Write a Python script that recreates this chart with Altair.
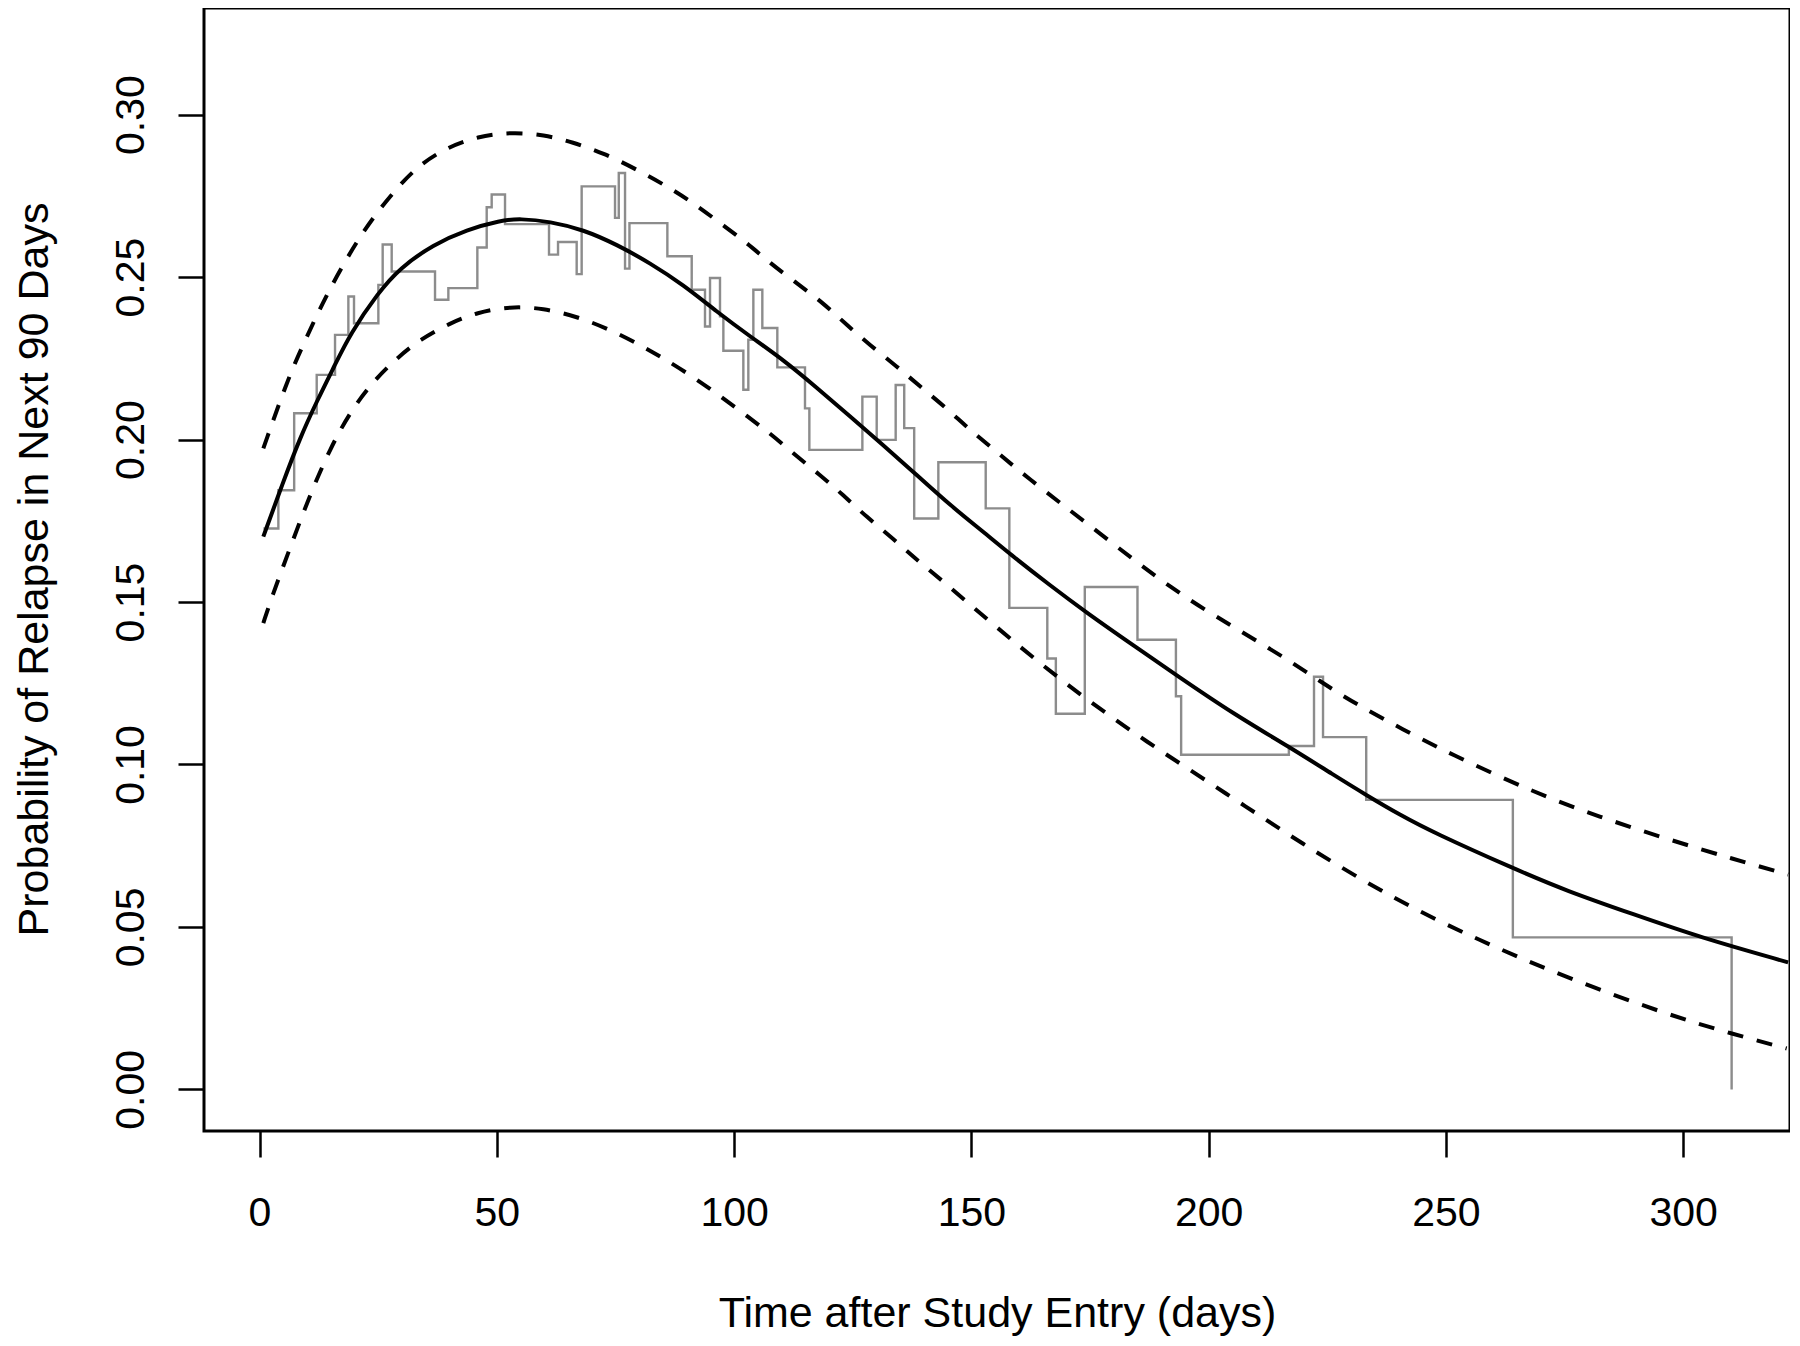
import altair as alt
import pandas as pd

# ---- data ----
step_days = [0.81, 3.97, 7.3, 12.05, 15.91, 18.72, 19.91, 25.04, 25.95, 27.85, 36.98, 39.79,
             45.90, 47.87, 48.92, 51.73, 61.0, 62.9, 66.83, 67.88, 74.91, 75.7, 77.02, 77.95,
             85.94, 91.07, 93.87, 94.93, 97.03, 97.74, 101.95, 103.0, 104.06, 105.95, 109.11,
             114.94, 115.86, 127.03, 130.05, 134.05, 135.85, 137.95, 143.04, 153.02, 158.0,
             166.0, 167.8, 173.9, 185.0, 193.1, 194.2, 216.9, 222.2, 224.1, 233.2, 264.1, 310.2]
step_probs = [0.1726, 0.1844, 0.2081, 0.2199, 0.2322, 0.2440, 0.2358, 0.2476, 0.2600, 0.2517,
              0.2430, 0.2466, 0.2591, 0.2715, 0.2754, 0.2663, 0.2569, 0.2608, 0.2509, 0.2779,
              0.2682, 0.2820, 0.2526, 0.2666, 0.2564, 0.2461, 0.2348, 0.2497, 0.2379, 0.2273,
              0.2153, 0.2307, 0.2461, 0.2343, 0.2222, 0.2096, 0.1968, 0.2132, 0.1999, 0.2168,
              0.2035, 0.1757, 0.1930, 0.1788, 0.1482, 0.1326, 0.1156, 0.1546, 0.1384, 0.1210,
              0.1030, 0.1057, 0.1270, 0.1084, 0.0891, 0.0468, 0.0]

fit_days = [0.8, 5.0, 8.5, 12.05, 15.9, 19.1, 25.0, 29.6, 36.6, 43.7, 50.7, 54.9, 61.2, 68.2,
            75.3, 82.3, 89.3, 96.3, 103.4, 110.4, 117.4, 124.4, 131.4, 138.5, 145.5, 152.5,
            158.1, 166.5, 174.3, 184.1, 193.3, 205.2, 217.1, 226.3, 233.3, 240.3, 247.3, 264.2,
            275.4, 289.5, 303.5, 322.1]
fit_probs = [0.1701, 0.1870, 0.2004, 0.2117, 0.2230, 0.2325, 0.2452, 0.2528, 0.2600, 0.2646,
             0.2674, 0.2680, 0.2671, 0.2646, 0.2600, 0.2543, 0.2476, 0.2394, 0.2317, 0.2245,
             0.2160, 0.2072, 0.1983, 0.1891, 0.1798, 0.1716, 0.1648, 0.1552, 0.1467, 0.1367,
             0.1274, 0.1156, 0.1053, 0.0968, 0.0905, 0.0845, 0.0791, 0.0680, 0.0611, 0.0539,
             0.0468, 0.0391]

upper_days = [0.8, 5.7, 8.5, 13.4, 17.7, 21.2, 24.7, 29.6, 33.8, 39.4, 46.0, 53.0, 60.0, 66.0,
              72.4, 79.5, 85.8, 91.4, 97.0, 102.7, 107.6, 113.2, 118.8, 123.7, 128.6, 134.3,
              139.2, 144.8, 149.7, 155.0, 160.6, 177.1, 192.5, 205.2, 217.1, 227.7, 239.6,
              250.8, 268.4, 282.4, 296.5, 310.5, 322.1]
upper_probs = [0.1973, 0.2175, 0.2270, 0.2425, 0.2540, 0.2625, 0.2698, 0.2785, 0.2846, 0.2898,
               0.2933, 0.2946, 0.2938, 0.2915, 0.2882, 0.2831, 0.2780, 0.2728, 0.2667, 0.2605,
               0.2543, 0.2481, 0.2420, 0.2353, 0.2291, 0.2225, 0.2163, 0.2096, 0.2029, 0.1967,
               0.1896, 0.1711, 0.1536, 0.1423, 0.1320, 0.1213, 0.1118, 0.1033, 0.0915, 0.0838,
               0.0771, 0.0709, 0.0661]

lower_days = [0.8, 2.6, 6.4, 10.6, 14.9, 19.1, 24.0, 28.9, 33.8, 40.1, 45.8, 52.8, 59.8, 66.8,
              73.9, 80.2, 85.1, 90.7, 96.3, 101.9, 107.6, 112.5, 118.1, 123.0, 127.9, 133.5,
              138.5, 143.4, 153.9, 170.1, 186.9, 203.8, 219.2, 238.9, 257.2, 275.4, 296.5,
              310.5, 321.8]
lower_probs = [0.1435, 0.1516, 0.1665, 0.1829, 0.1973, 0.2085, 0.2180, 0.2250, 0.2308, 0.2358,
               0.2391, 0.2410, 0.2404, 0.2379, 0.2338, 0.2291, 0.2250, 0.2199, 0.2142, 0.2081,
               0.2019, 0.1957, 0.1891, 0.1829, 0.1762, 0.1695, 0.1629, 0.1572, 0.1439, 0.1243,
               0.1069, 0.0910, 0.0760, 0.0586, 0.0457, 0.0344, 0.0231, 0.0170, 0.0126]

x_ticks = [0, 50, 100, 150, 200, 250, 300]
y_ticks = [0.00, 0.05, 0.10, 0.15, 0.20, 0.25, 0.30]

FONT = "Liberation Sans"

step_df = pd.DataFrame({"day": step_days, "p": step_probs})
fit_df = pd.DataFrame({"day": fit_days, "p": fit_probs})
up_df = pd.DataFrame({"day": upper_days, "p": upper_probs})
lo_df = pd.DataFrame({"day": lower_days, "p": lower_probs})

xs = alt.Scale(domain=[-11.7, 322.5], nice=False, zero=False)
ys = alt.Scale(domain=[-0.0128, 0.3328], nice=False, zero=False)

x_axis = alt.Axis(values=x_ticks, title="Time after Study Entry (days)", grid=False, domain=False,
                  tickSize=26, tickWidth=2.5, tickColor="black",
                  labelFont=FONT, labelFontSize=41, labelColor="black",
                  labelBaseline="alphabetic", labelPadding=68, labelFlush=False,
                  titleFont=FONT, titleFontSize=43, titleFontWeight="normal", titleColor="black",
                  titleBaseline="alphabetic", titleY=195)
y_axis = alt.Axis(values=y_ticks, format=".2f", title="Probability of Relapse in Next 90 Days",
                  grid=False, domain=False, tickSize=26, tickWidth=2.5, tickColor="black",
                  labelFont=FONT, labelFontSize=41, labelColor="black", labelAngle=-90,
                  labelAlign="center", labelBaseline="alphabetic", labelPadding=35,
                  labelFlush=False,
                  titleFont=FONT, titleFontSize=43, titleFontWeight="normal", titleColor="black",
                  titleAngle=-90, titleAlign="center", titleBaseline="alphabetic",
                  titleX=-157, titleY=561)

step = alt.Chart(step_df).mark_line(interpolate="step-after", color="#8c8c8c",
                                    strokeWidth=2.4, clip=True).encode(
    x=alt.X("day:Q", scale=xs, axis=x_axis),
    y=alt.Y("p:Q", scale=ys, axis=y_axis),
)

fit = alt.Chart(fit_df).mark_line(interpolate="basis", color="black", strokeWidth=4,
                                  clip=True).encode(
    x=alt.X("day:Q", scale=xs), y=alt.Y("p:Q", scale=ys))
upper = alt.Chart(up_df).mark_line(interpolate="basis", color="black", strokeWidth=4,
                                   strokeDash=[16, 14], clip=True).encode(
    x=alt.X("day:Q", scale=xs), y=alt.Y("p:Q", scale=ys))
lower = alt.Chart(lo_df).mark_line(interpolate="basis", color="black", strokeWidth=4,
                                   strokeDash=[16, 14], clip=True).encode(
    x=alt.X("day:Q", scale=xs), y=alt.Y("p:Q", scale=ys))

chart = alt.layer(step, fit, upper, lower).properties(
    width=1586, height=1123,
    autosize=alt.AutoSizeParams(type="none"),
    padding={"left": 196, "top": 0, "right": 0, "bottom": 205},
    background="white",
).configure_view(stroke="black", strokeWidth=3, fill="white")

chart.save("out.html", embed_options={"renderer": "svg", "actions": False})
